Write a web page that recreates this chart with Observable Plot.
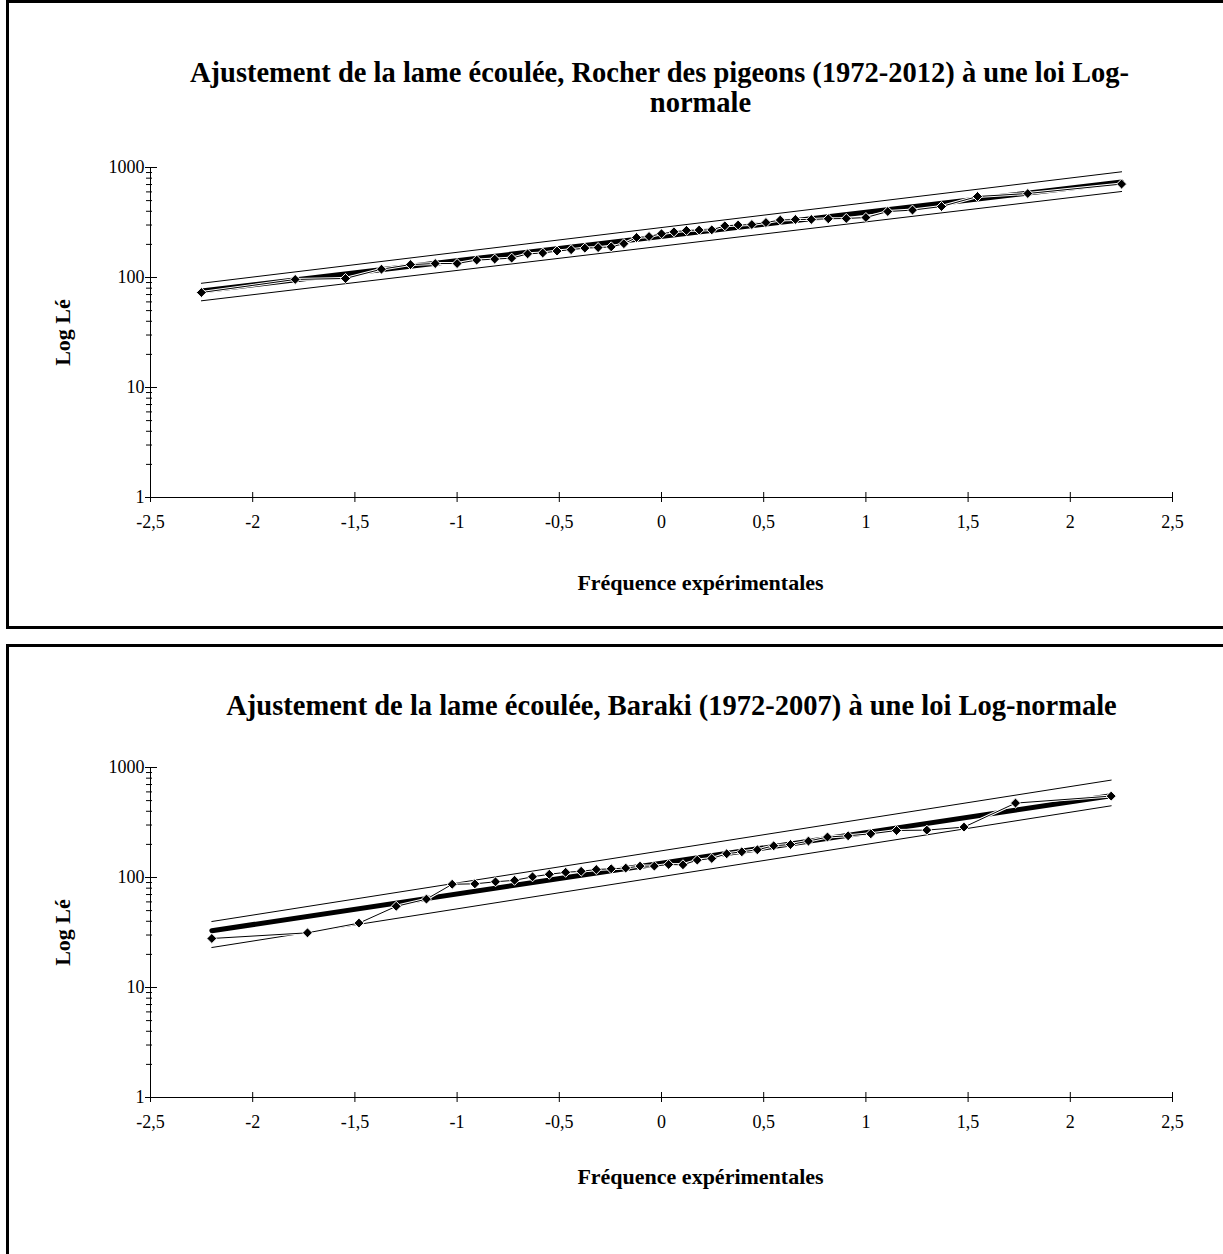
<!DOCTYPE html>
<html>
<head>
<meta charset="utf-8">
<script src="https://cdn.jsdelivr.net/npm/d3@7"></script>
<script src="https://cdn.jsdelivr.net/npm/@observablehq/plot@0.6"></script>
<style>
  body { margin: 0; background: #fff; }
  #page { position: relative; width: 1223px; height: 1254px; overflow: hidden; background: #fff; }
  .chart { position: absolute; left: 0; }
  .box { position: absolute; left: 6px; width: 1260px; border: 3px solid #000; box-sizing: border-box; pointer-events: none; z-index: 5; }
</style>
</head>
<body>
<div id="page">
  <div class="box" style="top:0px;height:629px;"></div>
  <div class="box" style="top:644px;height:700px;"></div>
</div>
<script>
// ---------- Data ----------
// Axis ticks
const xTicks = [-2.5, -2, -1.5, -1, -0.5, 0, 0.5, 1, 1.5, 2, 2.5];
const yMajor = [1, 10, 100, 1000];
const yMinor = [2,3,4,5,6,7,8,9,20,30,40,50,60,70,80,90,200,300,400,500,600,700,800,900];

// Chart 1 : Rocher des pigeons (1972-2012)
const title1a = "Ajustement de la lame écoulée, Rocher des pigeons (1972-2012) à une loi Log-";
const title1b = "normale";
const z1 = [-2.251,-1.792,-1.546,-1.370,-1.228,-1.107,-1.000,-0.904,-0.816,-0.733,-0.655,-0.581,-0.511,-0.442,-0.375,-0.310,-0.246,-0.184,-0.122,-0.061,0,
             0.061,0.122,0.184,0.246,0.310,0.375,0.442,0.511,0.581,0.655,0.733,0.816,0.904,1.000,1.107,1.228,1.370,1.546,1.792,2.251];
const le1 = [73,96,98,119,131,134,134,144,147,150,164,167,174,179,185,187,190,203,231,236,250,
             260,268,270,271,295,300,303,316,333,337,337,342,344,351,398,410,442,545,580,707];
const fitZ1 = [-2.251, 2.251];
const fit1 = [75.5, 738];
const upper1 = [88.6, 914];
const lower1 = [61.4, 605];

// Chart 2 : Baraki (1972-2007)
const title2 = "Ajustement de la lame écoulée, Baraki (1972-2007) à une loi Log-normale";
const z2 = [-2.200,-1.732,-1.480,-1.298,-1.150,-1.024,-0.913,-0.812,-0.719,-0.631,-0.549,-0.469,-0.393,-0.319,-0.246,-0.175,-0.105,-0.035,
             0.035,0.105,0.175,0.246,0.319,0.393,0.469,0.549,0.631,0.719,0.812,0.913,1.024,1.150,1.298,1.480,1.732,2.200];
const le2 = [27.9,31.4,38.5,54.7,63.6,86.8,87.6,91.4,94.3,101.5,106.9,111.5,113.9,118.2,120.0,121.8,126.9,126.9,
             131.3,130.5,143.9,148.9,164.3,171.3,178.6,194.2,199.5,214.2,233.4,239.4,249.6,267.5,269.7,287.2,474.7,549.5];
const fitZ2 = [-2.200, 2.200];
const fit2 = [32.8, 553];
const upper2 = [39.8, 768];
const lower2 = [23.1, 448.6];

const xLabel = "Fréquence expérimentales";
const yLabel = "Log Lé";

// ---------- Drawing ----------
const fmtX = d => String(d).replace(".", ",");

function makeChart({titles, z, le, fitZ, fit, upper, lower, top, height, marginTop, marginBottom, xTitleDy}) {
  const pts = z.map((d, i) => ({z: d, v: le[i]}));
  const fitPts = fitZ.map((d, i) => ({z: d, v: fit[i]}));
  const upPts = fitZ.map((d, i) => ({z: d, v: upper[i]}));
  const loPts = fitZ.map((d, i) => ({z: d, v: lower[i]}));
  const frameW = 1223 - 150 - 51;

  const svg = Plot.plot({
    width: 1223,
    height,
    marginLeft: 150,
    marginRight: 51,
    marginTop,
    marginBottom,
    style: {fontFamily: "'Liberation Serif', 'Times New Roman', serif", fontSize: "18px", color: "#000", background: "transparent", overflow: "visible"},
    x: {domain: [-2.5, 2.5]},
    y: {type: "log", domain: [1, 1000]},
    marks: [
      // axis lines
      Plot.ruleX([-2.5], {stroke: "#000", strokeWidth: 1}),
      Plot.ruleY([1], {stroke: "#000", strokeWidth: 1}),
      // tick marks (crossing the axes)
      Plot.tickX(xTicks, {x: d => d, stroke: "#000", insetTop: (height - marginTop - marginBottom) - 5, insetBottom: -5}),
      Plot.tickY(yMajor, {y: d => d, stroke: "#000", insetLeft: -5, insetRight: frameW - 7}),
      Plot.tickY(yMinor, {y: d => d, stroke: "#000", insetLeft: -4, insetRight: frameW - 2}),
      // tick labels
      Plot.axisX({ticks: xTicks, tickSize: 0, tickPadding: 18, tickFormat: fmtX, fontSize: 18, label: null}),
      Plot.axisY({ticks: yMajor, tickSize: 0, tickPadding: 6, tickFormat: d3.format("d"), fontSize: 18, label: null}),
      // confidence bands
      Plot.line(upPts, {x: "z", y: "v", stroke: "#fff", strokeWidth: 3}),
      Plot.line(upPts, {x: "z", y: "v", stroke: "#000", strokeWidth: 1}),
      Plot.line(loPts, {x: "z", y: "v", stroke: "#fff", strokeWidth: 3}),
      Plot.line(loPts, {x: "z", y: "v", stroke: "#000", strokeWidth: 1}),
      // fitted law
      Plot.line(fitPts, {x: "z", y: "v", stroke: "#fff", strokeWidth: 7.5}),
      Plot.line(fitPts, {x: "z", y: "v", stroke: "#000", strokeWidth: 5}),
      // observed values
      Plot.line(pts, {x: "z", y: "v", stroke: "#fff", strokeWidth: 3}),
      Plot.line(pts, {x: "z", y: "v", stroke: "#000", strokeWidth: 1}),
      Plot.dot(pts, {x: "z", y: "v", symbol: "diamond2", r: 4.5, fill: "#000", stroke: "#fff", strokeWidth: 1}),
      // titles
      ...titles.map(t => Plot.text([t.text], {frameAnchor: "top", textAnchor: "middle", text: d => d, dx: t.dx, dy: t.dy, fontSize: 28.5, fontWeight: "bold", lineAnchor: "middle"})),
      Plot.text([xLabel], {frameAnchor: "bottom", textAnchor: "middle", text: d => d, dx: 39, dy: xTitleDy, fontSize: 22, fontWeight: "bold", lineAnchor: "middle"}),
      Plot.text([yLabel], {frameAnchor: "left", textAnchor: "middle", text: d => d, dx: -88, rotate: -90, fontSize: 22, fontWeight: "bold", lineAnchor: "middle"})
    ]
  });
  svg.classList.add("chart");
  svg.style.top = top + "px";
  svg.style.position = "absolute";
  document.getElementById("page").appendChild(svg);
}

makeChart({
  titles: [{text: title1a, dx: -2, dy: -95}, {text: title1b, dx: 39, dy: -65}],
  z: z1, le: le1, fitZ: fitZ1, fit: fit1, upper: upper1, lower: lower1,
  top: 0, height: 628, marginTop: 167, marginBottom: 131, xTitleDy: 85
});
makeChart({
  titles: [{text: title2, dx: 10, dy: -62}],
  z: z2, le: le2, fitZ: fitZ2, fit: fit2, upper: upper2, lower: lower2,
  top: 640, height: 614, marginTop: 127, marginBottom: 157, xTitleDy: 79
});
</script>
</body>
</html>
